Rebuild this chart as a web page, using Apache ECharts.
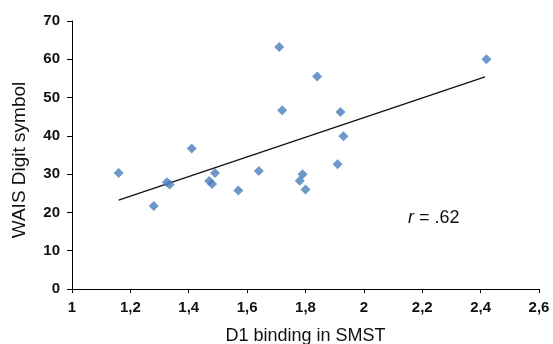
<!DOCTYPE html>
<html>
<head>
<meta charset="utf-8">
<script src="https://cdn.jsdelivr.net/npm/echarts@6/dist/echarts.min.js"></script>
<style>
html,body{margin:0;padding:0;background:#fff;}
#chart{width:553px;height:344px;}
</style>
</head>
<body>
<div id="chart"></div>
<script>
// D1 binding in SMST (x) vs WAIS Digit symbol (y)
const xValues = [1.16, 1.28, 1.325, 1.335, 1.41, 1.47, 1.48, 1.49, 1.57, 1.64, 1.71, 1.72, 1.78, 1.79, 1.80, 1.84, 1.91, 1.92, 1.93, 2.42];
const yValues = [30.3, 21.7, 27.9, 27.3, 36.7, 28.2, 27.4, 30.3, 25.7, 30.8, 63.2, 46.7, 28.3, 30.0, 26.0, 55.5, 32.6, 46.2, 39.9, 60.0];
// trend line endpoints
const trendX = [1.16, 2.415];
const trendY = [23.2, 55.4];
const xTicks = [1, 1.2, 1.4, 1.6, 1.8, 2, 2.2, 2.4, 2.6];
const yTicks = [0, 10, 20, 30, 40, 50, 60, 70];
const xTitle = 'D1 binding in SMST';
const yTitle = 'WAIS Digit symbol';

const points = xValues.map((x, i) => [x, yValues[i]]);
const trend = trendX.map((x, i) => [x, trendY[i]]);

const chart = echarts.init(document.getElementById('chart'), null, {renderer: 'canvas'});
const font = 'Liberation Sans, Arial, sans-serif';
chart.setOption({
  animation: false,
  backgroundColor: '#fff',
  grid: {left: 72, right: 14, top: 21, bottom: 55, containLabel: false, outerBoundsMode: 'none'},
  xAxis: {
    type: 'value', min: xTicks[0], max: xTicks[xTicks.length - 1], interval: 0.2,
    name: xTitle, nameLocation: 'middle', nameGap: 38,
    nameTextStyle: {fontFamily: font, fontSize: 18, color: '#111'},
    axisLine: {show: true, lineStyle: {color: '#000', width: 1}},
    axisTick: {show: true, inside: false, length: 4, lineStyle: {color: '#000'}},
    axisLabel: {fontFamily: font, fontSize: 15, fontWeight: 'bold', color: '#111', margin: 11,
      formatter: v => String(Math.round(v * 10) / 10).replace('.', ',')},
    splitLine: {show: false}
  },
  yAxis: {
    type: 'value', min: yTicks[0], max: yTicks[yTicks.length - 1], interval: 10,
    axisLine: {show: true, lineStyle: {color: '#000', width: 1}},
    axisTick: {show: true, inside: false, length: 5, lineStyle: {color: '#000'}},
    axisLabel: {fontFamily: font, fontSize: 15, fontWeight: 'bold', color: '#111', margin: 12},
    splitLine: {show: false}
  },
  series: [
    {
      type: 'line', data: trend, showSymbol: false, symbol: 'none',
      lineStyle: {color: '#111', width: 1.3}, z: 2, silent: true
    },
    {
      type: 'scatter', data: points, symbol: 'diamond', symbolSize: [10, 10],
      itemStyle: {color: '#4a7ebb'}, z: 3
    }
  ],
  graphic: [
    {
      type: 'text', x: 20, y: 160, rotation: Math.PI / 2,
      style: {text: yTitle, fontFamily: font, fontSize: 19, fill: '#111', align: 'center', verticalAlign: 'middle'}
    },
    {
      type: 'text', left: 408, top: 209,
      style: {
        text: '{i|r} = .62',
        rich: {i: {fontStyle: 'italic', fontFamily: font, fontSize: 18, fill: '#111'}},
        fontFamily: font, fontSize: 18, fill: '#111'
      }
    }
  ]
});
</script>
</body>
</html>
